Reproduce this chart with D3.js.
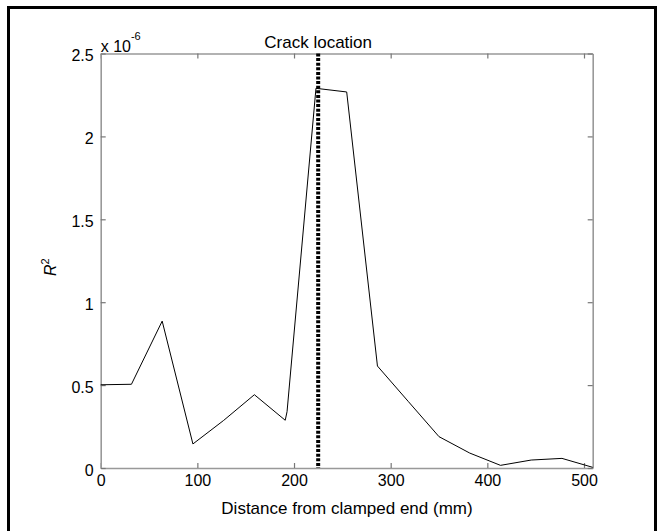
<!DOCTYPE html>
<html>
<head>
<meta charset="utf-8">
<script src="https://cdn.jsdelivr.net/npm/d3@7"></script>
<style>
  body { margin: 0; background: #fff; }
  svg text { font-family: "Liberation Sans", Arial, sans-serif; fill: #000; }
  .axis path { stroke: #999; stroke-width: 1.6; }
  .axis line { stroke: #777; stroke-width: 1.2; }
  .axis text { font-size: 16px; }
</style>
</head>
<body>
<svg id="chart" width="658" height="531"></svg>
<script>
// distance from clamped end (mm)
var distance = [0, 31.8, 63.6, 95.4, 127.2, 159, 190.9, 192.8, 222.7, 254.5, 286.3, 318.1, 350, 381.8, 413.6, 445.4, 477.2, 509];
// R^2 values, in units of 1e-6
var rSquared = [0.502, 0.505, 0.886, 0.145, 0.287, 0.442, 0.288, 0.34, 2.29, 2.268, 0.615, 0.402, 0.189, 0.09, 0.016, 0.048, 0.058, 0.004];
var crackAt = 225;
var xTicks = [0, 100, 200, 300, 400, 500];
var yTicks = [0, 0.5, 1, 1.5, 2, 2.5];

(function() {
  var svg = d3.select('#chart');

  // outer frame
  svg.append('rect')
    .attr('x', 8.5).attr('y', 7.5)
    .attr('width', 647).attr('height', 600)
    .attr('fill', 'none')
    .attr('stroke', '#000')
    .attr('stroke-width', 3);

  var M = { left: 100.7, right: 592.7, top: 53.5, bottom: 468 };

  var x = d3.scaleLinear().domain([0, 509]).range([M.left, M.right]);
  var y = d3.scaleLinear().domain([0, 2.5]).range([M.bottom, M.top]);

  svg.append('g').attr('class', 'axis')
    .attr('transform', 'translate(0,' + M.bottom + ')')
    .call(d3.axisBottom(x).tickValues(xTicks).tickSizeInner(-5).tickSizeOuter(0).tickPadding(7));

  svg.append('g').attr('class', 'axis')
    .attr('transform', 'translate(0,' + M.top + ')')
    .call(d3.axisTop(x).tickValues(xTicks).tickSizeInner(-5).tickSizeOuter(0).tickFormat(''));

  var yAxis = svg.append('g').attr('class', 'axis')
    .attr('transform', 'translate(' + M.left + ',0)')
    .call(d3.axisLeft(y).tickValues(yTicks).tickSizeInner(-5).tickSizeOuter(0).tickPadding(7)
      .tickFormat(function(d) { return String(d); }));
  yAxis.selectAll('text').attr('dy', '0.45em');

  svg.append('g').attr('class', 'axis')
    .attr('transform', 'translate(' + M.right + ',0)')
    .call(d3.axisRight(y).tickValues(yTicks).tickSizeInner(-5).tickSizeOuter(0).tickFormat(''));

  // crack line
  svg.append('line')
    .attr('x1', x(crackAt)).attr('x2', x(crackAt))
    .attr('y1', M.top).attr('y2', M.bottom)
    .attr('stroke', '#000')
    .attr('stroke-width', 4)
    .attr('stroke-dasharray', '3,1.6');

  var line = d3.line()
    .x(function(d, i) { return x(distance[i]); })
    .y(function(d) { return y(d); });

  svg.append('path')
    .datum(rSquared)
    .attr('d', line)
    .attr('fill', 'none')
    .attr('stroke', '#000')
    .attr('stroke-width', 1);

  // titles
  svg.append('text')
    .attr('x', x(crackAt)).attr('y', 48)
    .attr('text-anchor', 'middle')
    .style('font-size', '17px')
    .text('Crack location');

  var expo = svg.append('text')
    .attr('x', M.left).attr('y', 52)
    .style('font-size', '16px');
  expo.append('tspan').text('x 10');
  expo.append('tspan').attr('dy', -12).style('font-size', '11px').text('-6');

  svg.append('text')
    .attr('x', 347).attr('y', 514)
    .attr('text-anchor', 'middle')
    .style('font-size', '17px')
    .text('Distance from clamped end (mm)');

  var ylab = svg.append('text')
    .attr('transform', 'translate(56,276) rotate(-90)')
    .style('font-size', '16px');
  ylab.append('tspan').style('font-style', 'italic').text('R');
  ylab.append('tspan').attr('dy', -7).style('font-size', '11px').text('2');
})();
</script>
</body>
</html>
